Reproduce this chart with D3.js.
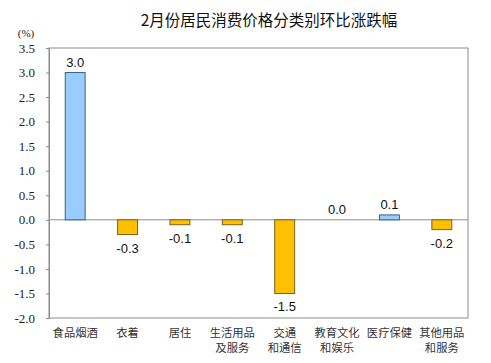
<!DOCTYPE html>
<html>
<head>
<meta charset="utf-8">
<script src="https://cdn.jsdelivr.net/npm/d3@7"></script>
<style>
  body { margin: 0; background: #fff; }
  #main { width: 491px; height: 363px; }
</style>
</head>
<body>
<div id="main"></div>
<script>
const categories = [
  ["食品烟酒"], ["衣着"], ["居住"], ["生活用品", "及服务"],
  ["交通", "和通信"], ["教育文化", "和娱乐"], ["医疗保健"], ["其他用品", "和服务"]
];
const values = [3.0, -0.3, -0.1, -0.1, -1.5, 0.0, 0.1, -0.2];
const yTicks = [3.5, 3.0, 2.5, 2.0, 1.5, 1.0, 0.5, 0.0, -0.5, -1.0, -1.5, -2.0];
const title = "2月份居民消费价格分类别环比涨跌幅";

const width = 491, height = 363;
const m = {left: 49, right: 23, top: 48, bottom: 45};

const svg = d3.select("#main").append("svg")
  .attr("width", width)
  .attr("height", height);

const x = d3.scaleBand()
  .domain(d3.range(values.length))
  .range([m.left, width - m.right])
  .paddingInner(0.62)
  .paddingOuter(0.31);

const y = d3.scaleLinear()
  .domain([-2, 3.5])
  .range([height - m.bottom, m.top]);

// plot frame
svg.append("rect")
  .attr("x", m.left)
  .attr("y", m.top)
  .attr("width", width - m.left - m.right)
  .attr("height", height - m.top - m.bottom)
  .attr("fill", "none")
  .attr("stroke", "#8c8c8c");

// y axis
const yAxis = svg.append("g")
  .attr("transform", `translate(${m.left},0)`)
  .call(d3.axisLeft(y).tickValues(yTicks).tickFormat(d3.format(".1f")).tickSize(3).tickPadding(11));
yAxis.select(".domain").attr("stroke", "#8c8c8c");
yAxis.selectAll(".tick line").attr("stroke", "#8c8c8c");
yAxis.selectAll(".tick text")
  .attr("font-family", "'Liberation Serif', 'DejaVu Serif', serif")
  .attr("font-size", 13)
  .attr("fill", "#222")
  .text(d => d3.format(".1f")(d).replace("−", "-"));

svg.append("text")
  .attr("x", 26).attr("y", 37)
  .attr("text-anchor", "middle")
  .attr("font-family", "'Liberation Serif', serif")
  .attr("font-size", 11)
  .attr("fill", "#222")
  .text("(%)");

// zero line
svg.append("line")
  .attr("x1", m.left).attr("x2", width - m.right)
  .attr("y1", y(0)).attr("y2", y(0))
  .attr("stroke", "#8c8c8c");

// bars
svg.selectAll("rect.bar")
  .data(values)
  .enter()
  .append("rect")
  .attr("class", "bar")
  .attr("x", (d, i) => x(i))
  .attr("width", x.bandwidth())
  .attr("y", d => y(Math.max(0, d)))
  .attr("height", d => Math.abs(y(d) - y(0)))
  .attr("fill", d => d > 0 ? "#99ccff" : "#ffc000")
  .attr("stroke", d => d > 0 ? "#3c5f86" : "#7a6020")
  .attr("stroke-width", 1)
  .style("display", d => d === 0 ? "none" : null);

// value labels
svg.selectAll("text.val")
  .data(values)
  .enter()
  .append("text")
  .attr("class", "val")
  .attr("x", (d, i) => x(i) + x.bandwidth() / 2)
  .attr("y", d => d < 0 ? y(d) + 18 : y(d) - 6)
  .attr("text-anchor", "middle")
  .attr("font-family", "'Liberation Sans', Arial, sans-serif")
  .attr("font-size", 13)
  .attr("fill", "#111")
  .text(d => d3.format(".1f")(d).replace("−", "-"));

// category labels
svg.selectAll("text.cat")
  .data(categories)
  .enter()
  .append("text")
  .attr("class", "cat")
  .attr("text-anchor", "middle")
  .attr("font-family", "'Noto Sans CJK SC', sans-serif")
  .attr("font-size", 11.3)
  .attr("fill", "#333")
  .each(function(lines, i) {
    const t = d3.select(this);
    lines.forEach((s, j) => {
      t.append("tspan")
        .attr("x", x(i) + x.bandwidth() / 2)
        .attr("y", 337 + j * 15)
        .text(s);
    });
  });

// title
svg.append("text")
  .attr("x", 269).attr("y", 26)
  .attr("text-anchor", "middle")
  .attr("font-family", "'Noto Sans CJK SC', sans-serif")
  .attr("font-size", 15.5)
  .attr("fill", "#111")
  .text(title);
</script>
</body>
</html>
